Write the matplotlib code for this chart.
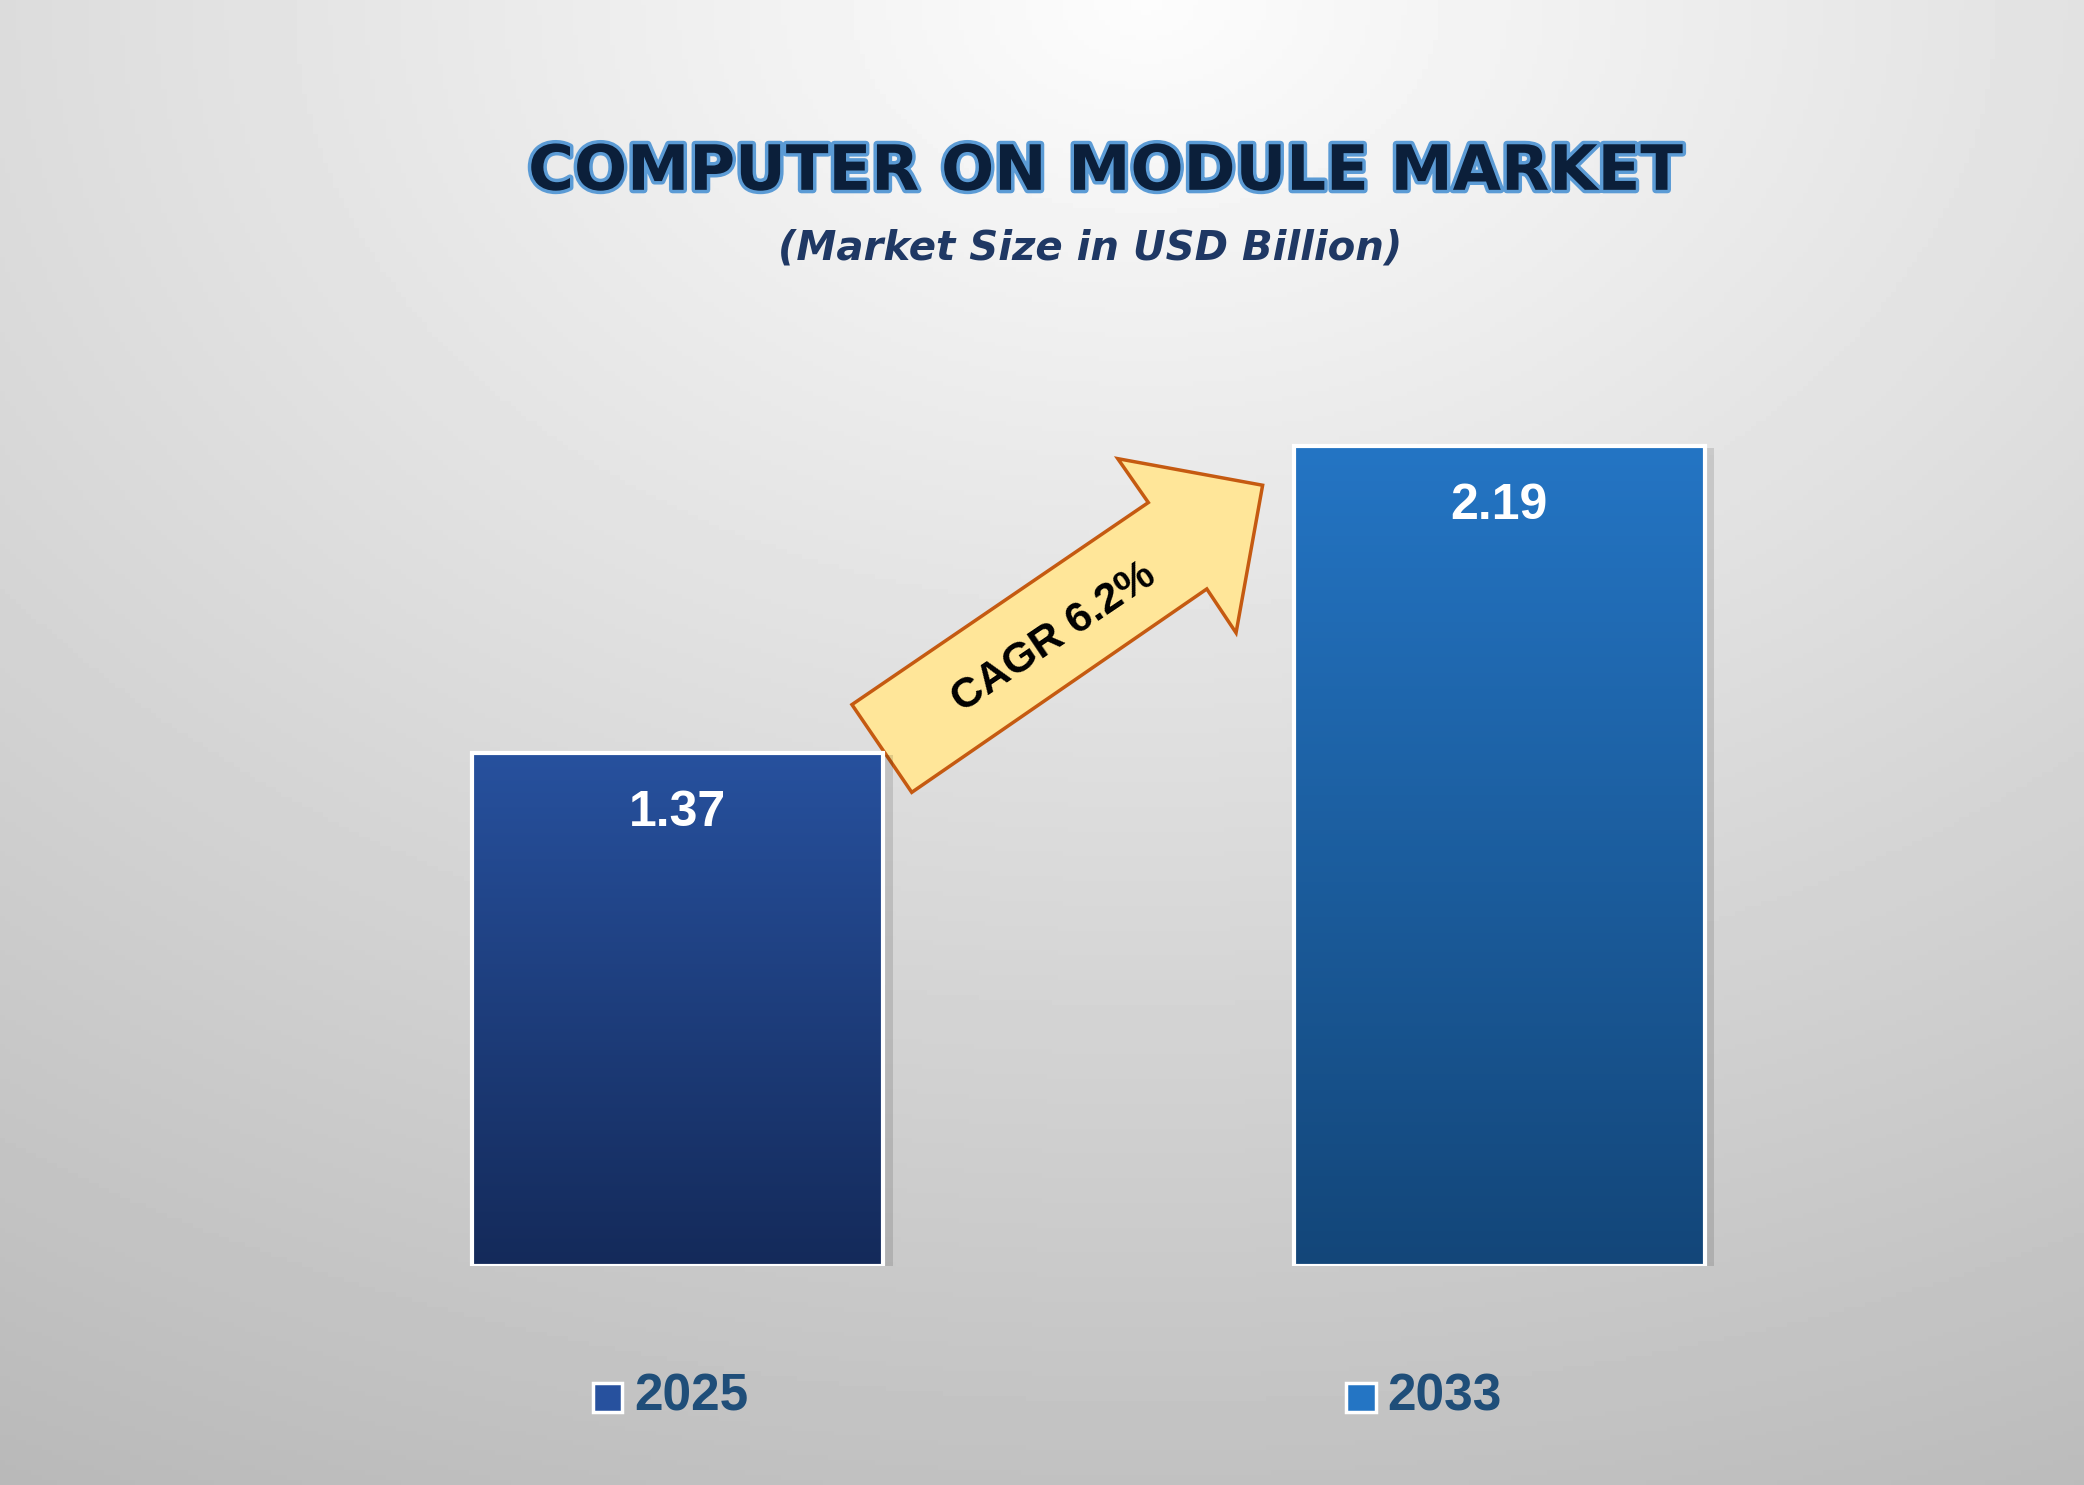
import numpy as np
import matplotlib
matplotlib.use("Agg")
import matplotlib.pyplot as plt
import matplotlib.patheffects as pe
from matplotlib.patches import Polygon, Rectangle
from matplotlib.colors import LinearSegmentedColormap

years = ["2025", "2033"]
values = [1.37, 2.19]
cagr_text = "CAGR 6.2%"
title = "COMPUTER ON MODULE MARKET"
subtitle = "(Market Size in USD Billion)"

plt.rcParams['font.family'] = ['Liberation Sans', 'DejaVu Sans']
W, H = 1568, 1117
fig = plt.figure(figsize=(20.84, 14.85), dpi=100)

bg = fig.add_axes([0, 0, 1, 1])
yy, xx = np.mgrid[0:1:300j, 0:1:400j]
r = np.sqrt((xx - 0.55) ** 2 + yy ** 2)
val = 0.99 - 0.28 * np.clip(r, 0, 1.2) / 1.2
bg.imshow(val, cmap='gray', vmin=0, vmax=1, extent=[0, 1, 1, 0], aspect='auto')
bg.set_xlim(0, 1); bg.set_ylim(1, 0); bg.axis('off')

def fx(px): return px / W
def fy(py): return 1 - py / H

ax = fig.add_axes([fx(201), fy(952), fx(1437) - fx(201), 0.630])
ax.set_xlim(-0.5, 1.5); ax.set_ylim(0, 2.5); ax.axis('off')

tops = [("#27519e", "#142a5a"), ("#2475c4", "#134679")]
for i, (v, (ct, cb)) in enumerate(zip(values, tops)):
    cmap = LinearSegmentedColormap.from_list("g", [cb, ct])
    grad = np.linspace(0, 1, 256).reshape(-1, 1)
    ax.add_patch(Rectangle((i - 0.25 + 0.012, -0.005), 0.5, v, color='black', alpha=0.12, lw=0))
    ax.imshow(grad, cmap=cmap, extent=[i - 0.25, i + 0.25, 0, v], origin='lower', aspect='auto', zorder=2)
    ax.add_patch(Rectangle((i - 0.25, 0), 0.5, v, fill=False, ec='white', lw=3, zorder=3))
    ax.text(i, v - 0.16, f"{v:.2f}", color='white', fontsize=36, fontweight='bold',
            ha='center', va='center', zorder=4)
ax.set_xlim(-0.5, 1.5); ax.set_ylim(0, 2.5)

pts = [(641, 530), (864, 378), (841, 345), (950, 365), (930, 476), (908, 443), (686, 596)]
bg.add_patch(Polygon([(fx(x), 1 - fy(y)) for x, y in pts], closed=True,
                     fc="#ffe699", ec="#c55a11", lw=2.5, zorder=5))
bg.text(fx(793), 1 - fy(480), cagr_text, rotation=34, fontsize=31, fontweight='bold',
        ha='center', va='center', color='black', zorder=6)

fig.text(fx(832), fy(130), title, fontsize=45, fontweight='bold', color='#0b1f3a',
         ha='center', va='center', family='DejaVu Sans',
         path_effects=[pe.withStroke(linewidth=5, foreground='#5b9bd5')])
fig.text(fx(820), fy(187), subtitle, fontsize=29, fontweight='bold',
         style='italic', color='#1f3864', ha='center', va='center', family='DejaVu Sans')

for i, (yr, (ct, cb)) in enumerate(zip(years, tops)):
    cx = [457, 1024][i]
    bg.add_patch(Rectangle((fx(cx - 11), 1 - fy(1040)), fx(22), fx(22) * W / H,
                           fc=ct, ec='white', lw=2.5, zorder=5))
    fig.text(fx(cx + 20), fy(1051), yr, fontsize=37, fontweight='bold', color='#1f4e79',
             ha='left', va='center')

fig.savefig("out.png", dpi=100)
